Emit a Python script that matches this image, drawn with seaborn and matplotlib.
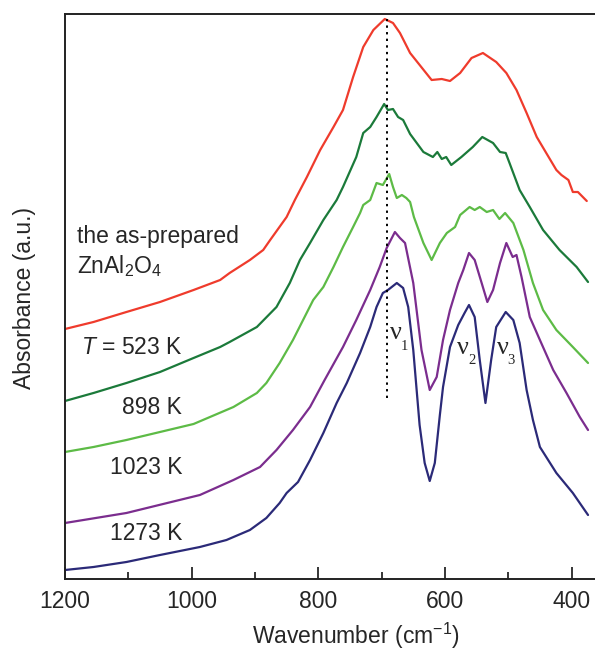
"""
ИК-спектры ZnAl2O4 при разных температурах прокаливания.
"""

import pandas as pd
import matplotlib
matplotlib.use('Agg')
import matplotlib.pyplot as plt
import seaborn as sns

# Данные (волновое число, см^-1 / поглощение, отн. ед.)
red_wn = [1200, 1155, 1103, 1050, 997, 955, 940, 908, 887, 876, 850, 837, 818, 797, 776, 761, 745, 729,
          713, 695, 682, 671, 655, 621, 605, 592, 576, 558, 540, 519, 503, 487, 471, 455, 440, 424,
          416, 405, 398, 390, 376]
red_ab = [250, 257, 267, 277, 289, 299, 306, 319, 329, 339, 362, 379, 402, 429, 452, 469, 502, 532,
          549, 560, 556, 546, 526, 499, 500, 498, 506, 521, 526, 517, 506, 489, 466, 442, 426, 409,
          404, 399, 387, 387, 378]

dgreen_wn = [1200, 1155, 1103, 1050, 997, 955, 940, 897, 866, 845, 829, 813, 792, 771, 761, 740, 729,
             718, 708, 696, 690, 682, 674, 666, 655, 634, 619, 612, 605, 598, 590, 574, 556, 541, 524,
             513, 504, 498, 482, 466, 445, 419, 392, 374]
dgreen_ab = [178, 186, 196, 207, 221, 232, 237, 252, 272, 296, 319, 336, 359, 379, 392, 422, 446,
             452, 462, 475, 469, 470, 462, 459, 445, 427, 422, 427, 420, 422, 414, 422, 432, 442, 436,
             427, 426, 416, 389, 372, 349, 329, 312, 297]

lgreen_wn = [1200, 1155, 1103, 1050, 997, 934, 897, 882, 861, 840, 824, 808, 792, 776, 761, 745, 734,
             729, 718, 708, 698, 688, 682, 676, 668, 661, 655, 649, 634, 621, 608, 597, 584, 576, 561,
             553, 545, 534, 524, 514, 505, 492, 476, 461, 445, 424, 398, 374]
lgreen_ab = [127, 132, 139, 147, 155, 172, 186, 196, 216, 239, 259, 279, 292, 312, 332, 352, 366,
             374, 379, 396, 394, 405, 392, 381, 384, 381, 377, 362, 336, 319, 336, 346, 352, 364, 372,
             369, 372, 367, 369, 360, 366, 356, 329, 296, 269, 249, 232, 216]

purple_wn = [1200, 1103, 987, 934, 892, 866, 840, 813, 790, 761, 740, 718, 703, 692, 679, 671, 663,
             650, 637, 624, 613, 603, 592, 579, 571, 562, 553, 542, 533, 524, 513, 503, 493, 487, 479,
             466, 450, 429, 408, 387, 374]
purple_ab = [56, 66, 84, 99, 112, 129, 149, 172, 199, 232, 259, 289, 312, 331, 347, 341, 336,
             296, 229, 189, 202, 239, 269, 296, 309, 326, 319, 296, 277, 289, 316, 336, 322, 324, 302,
             262, 239, 209, 186, 162, 149]

navy_wn = [1200, 1155, 1103, 1050, 987, 945, 908, 882, 861, 850, 832, 813, 792, 771, 755, 734, 718,
           708, 698, 690, 676, 666, 658, 650, 640, 632, 624, 616, 608, 603, 592, 579, 569, 562, 553,
           545, 536, 527, 519, 504, 492, 482, 471, 461, 450, 424, 398, 374]
navy_ab = [9, 12, 17, 24, 32, 39, 49, 61, 76, 86, 97, 119, 146, 176, 196, 226, 252,
           272, 286, 289, 296, 291, 272, 229, 154, 116, 98, 116, 164, 192, 232, 254, 266, 274, 262,
           219, 176, 219, 252, 267, 259, 236, 189, 159, 132, 106, 86, 64]

samples = ['as-prepared', '523 K', '898 K', '1023 K', '1273 K']
colors = ['#ef3b2c', '#1b7a3a', '#5dbb46', '#7b2d8e', '#2b2a78']

# положение полосы v1
band_wn = 692
band_ab = [181, 560]

frames = []
for name, wn, ab in zip(samples,
                        [red_wn, dgreen_wn, lgreen_wn, purple_wn, navy_wn],
                        [red_ab, dgreen_ab, lgreen_ab, purple_ab, navy_ab]):
    frames.append(pd.DataFrame({'wn': wn, 'ab': ab, 'sample': name}))
df = pd.concat(frames, ignore_index=True)

sns.set_style('ticks')
plt.rcParams['font.family'] = ['Liberation Sans', 'DejaVu Sans']
plt.rcParams['mathtext.fontset'] = 'custom'
plt.rcParams['mathtext.rm'] = 'Liberation Sans'
plt.rcParams['mathtext.it'] = 'Liberation Sans:italic'

fig = plt.figure(figsize=(5.95, 6.5), dpi=100)
ax = fig.add_axes([65 / 595, 71 / 650, 530 / 595, 565 / 650])

sns.lineplot(data=df, x='wn', y='ab', hue='sample', palette=dict(zip(samples, colors)),
             estimator=None, linewidth=1.6, legend=False, ax=ax)
for line in ax.lines:
    line.set_solid_joinstyle('round')

ax.plot([band_wn, band_wn], band_ab, color='black', linestyle=(0, (1.2, 2.2)), linewidth=1.4)

ax.set_xlim(1200, 363)
ax.set_ylim(0, 565)
ax.set_xticks([1200, 1000, 800, 600, 400])
ax.set_xticks([1100, 900, 700, 500], minor=True)
ax.set_yticks([])
ax.tick_params(axis='x', which='major', direction='in', length=8.5, width=1.3,
               labelsize=16.5, pad=8, top=False)
ax.tick_params(axis='x', which='minor', direction='in', length=4.8, width=1.3, top=False)
ax.set_xlabel('')
ax.set_ylabel('')
for side in ['left', 'top', 'bottom']:
    ax.spines[side].set_linewidth(1.4)
    ax.spines[side].set_color('#222222')
ax.spines['right'].set_visible(False)

fig.text(356 / 595, 1 - 636 / 650, 'Wavenumber (cm$^{-1}$)', ha='center', va='center', fontsize=16.5)
fig.text(25 / 595, 1 - 298 / 650, 'Absorbance (a.u.)', ha='center', va='center',
         rotation=90, fontsize=16.5)

# подписи образцов
ax.text(1181, 343, 'the as-prepared', ha='left', va='center', fontsize=16.5)
ax.text(1181, 313, 'ZnAl$_2$O$_4$', ha='left', va='center', fontsize=16.5)
ax.text(1015, 231, '$T$ = 523 K', ha='right', va='center', fontsize=16.5)
ax.text(1015, 172, '898 K', ha='right', va='center', fontsize=16.5)
ax.text(1015, 111, '1023 K', ha='right', va='center', fontsize=16.5)
ax.text(1015, 46, '1273 K', ha='right', va='center', fontsize=16.5)

# полосы v1, v2, v3
for wn, ab, idx in [(677, 246, '1'), (571, 231, '2'), (508, 231, '3')]:
    ax.text(wn, ab, 'ν', ha='center', va='center', fontsize=19, family='Liberation Serif')
    ax.text(wn - 13, ab - 13, idx, ha='center', va='center', fontsize=10.5, family='Liberation Serif')

plt.savefig('out.png', dpi=100)
